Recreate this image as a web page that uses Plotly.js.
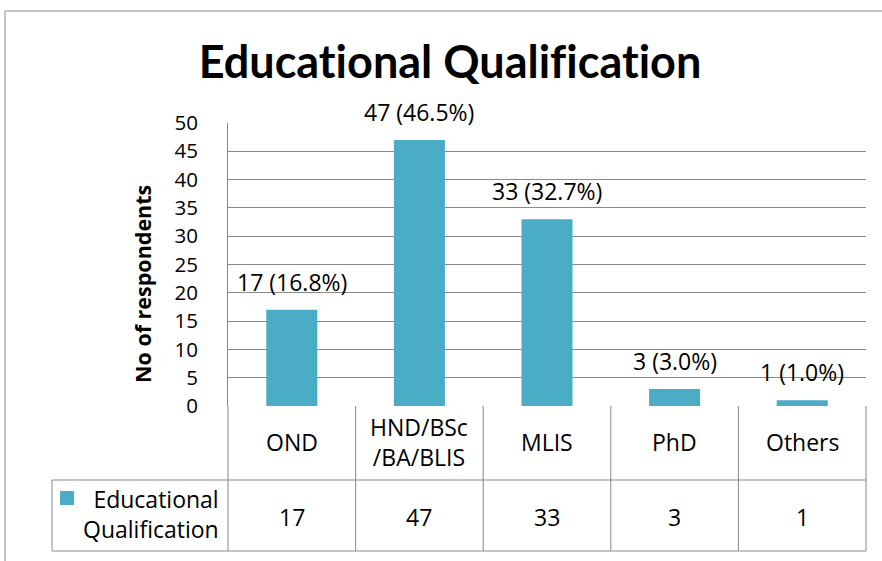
<!DOCTYPE html>
<html>
<head>
<meta charset="utf-8">
<script src="https://cdn.plot.ly/plotly-3.0.1.min.js"></script>
<style>html,body{margin:0;padding:0;background:#fff;}#chart{width:882px;height:561px;}text{font-variant-ligatures:none;font-feature-settings:"liga" 0;}</style>
</head>
<body>
<div id="chart"></div>
<script>
// ---- data ----
const categories = ["OND", "HND/BSc<br>/BA/BLIS", "MLIS", "PhD", "Others"];
const counts = [17, 47, 33, 3, 1];
const percents = [16.8, 46.5, 32.7, 3.0, 1.0];
const seriesName = "Educational<br>Qualification";
const chartTitle = "Educational Qualification";
const yTitle = "No of respondents";

// ---- geometry helpers (pixel -> paper) ----
const W = 882, H = 561;
const L = 228, R = 866, T = 123, B = 406;
const px = x => (x - L) / (R - L);
const py = y => (B - y) / (B - T);

const FONT = "'Open Sans', Lato, sans-serif";
const TFONT = "Lato, 'Open Sans', sans-serif";
const FS = 23;
const BAR = "#4BACC6";
const LINE = "#898989";
const idx = categories.map((c, i) => i);

const shapes = [];
function seg(x0, y0, x1, y1) {
  shapes.push({type: "line", xref: "paper", yref: "paper",
    x0: px(x0), y0: py(y0), x1: px(x1), y1: py(y1),
    line: {color: LINE, width: 1}});
}
// outer chart frame
seg(5, 11, 890, 11);
seg(5, 11, 5, 570);
// table
const colEdges = [L];
for (let i = 1; i <= categories.length; i++) colEdges.push(L + (R - L) * i / categories.length);
colEdges.forEach(x => seg(x, B, x, 551));
seg(52, 480, R, 480);
seg(52, 551, R, 551);
seg(52, 480, 52, 551);
// legend key
shapes.push({type: "rect", xref: "paper", yref: "paper",
  x0: px(60), x1: px(74), y0: py(505), y1: py(491),
  fillcolor: BAR, line: {width: 0}});

const annotations = [];
// data labels
idx.forEach(i => annotations.push({
  x: i, y: counts[i], xref: "x", yref: "y",
  text: counts[i] + " (" + percents[i].toFixed(1) + "%)",
  showarrow: false, yanchor: "middle", yshift: 28,
  font: {family: FONT, size: FS, color: "#000"}
}));
// table header labels
idx.forEach(i => annotations.push({
  x: i, y: py(442), xref: "x", yref: "paper",
  text: categories[i], showarrow: false, yanchor: "middle",
  font: {family: FONT, size: FS, color: "#000"}
}));
// table values
idx.forEach(i => annotations.push({
  x: i, y: py(517), xref: "x", yref: "paper",
  text: String(counts[i]), showarrow: false, yanchor: "middle",
  font: {family: FONT, size: FS, color: "#000"}
}));
// series name in table
annotations.push({
  x: px(221), y: py(514), xref: "paper", yref: "paper",
  text: seriesName, showarrow: false, xanchor: "right", yanchor: "middle",
  align: "right", font: {family: FONT, size: FS, color: "#000"}
});
// y axis title
annotations.push({
  x: px(142), y: py(284), xref: "paper", yref: "paper",
  text: "<b>" + yTitle + "</b>", showarrow: false, textangle: -90,
  xanchor: "center", yanchor: "middle",
  font: {family: FONT, size: 21.5, color: "#000"}
});

const trace = {
  type: "bar", x: idx, y: counts,
  marker: {color: BAR, line: {width: 0}},
  width: 0.4, hoverinfo: "skip", cliponaxis: false
};

const layout = {
  width: W, height: H,
  margin: {l: L, r: W - R, t: T, b: H - B, pad: 0},
  paper_bgcolor: "#fff", plot_bgcolor: "#fff",
  showlegend: false,
  title: {text: "<b>" + chartTitle + "</b>", xref: "container", yref: "container",
    x: 450 / W, xanchor: "center", y: 1 - 62 / H, yanchor: "middle",
    font: {family: TFONT, size: 45, color: "#000"}},
  xaxis: {range: [-0.5, categories.length - 0.5], showticklabels: false,
    showgrid: false, zeroline: false, showline: false, ticks: "", fixedrange: true},
  yaxis: {range: [0, 50], dtick: 5, tick0: 0, showgrid: true, gridcolor: LINE, gridwidth: 1,
    zeroline: false, showline: true, linecolor: LINE, linewidth: 1, ticks: "",
    ticklabelstandoff: 25, tickfont: {family: FONT, size: 20.5, color: "#000"}, fixedrange: true},
  shapes: shapes, annotations: annotations
};

Plotly.newPlot("chart", [trace], layout, {staticPlot: true, displayModeBar: false});
</script>
</body>
</html>
